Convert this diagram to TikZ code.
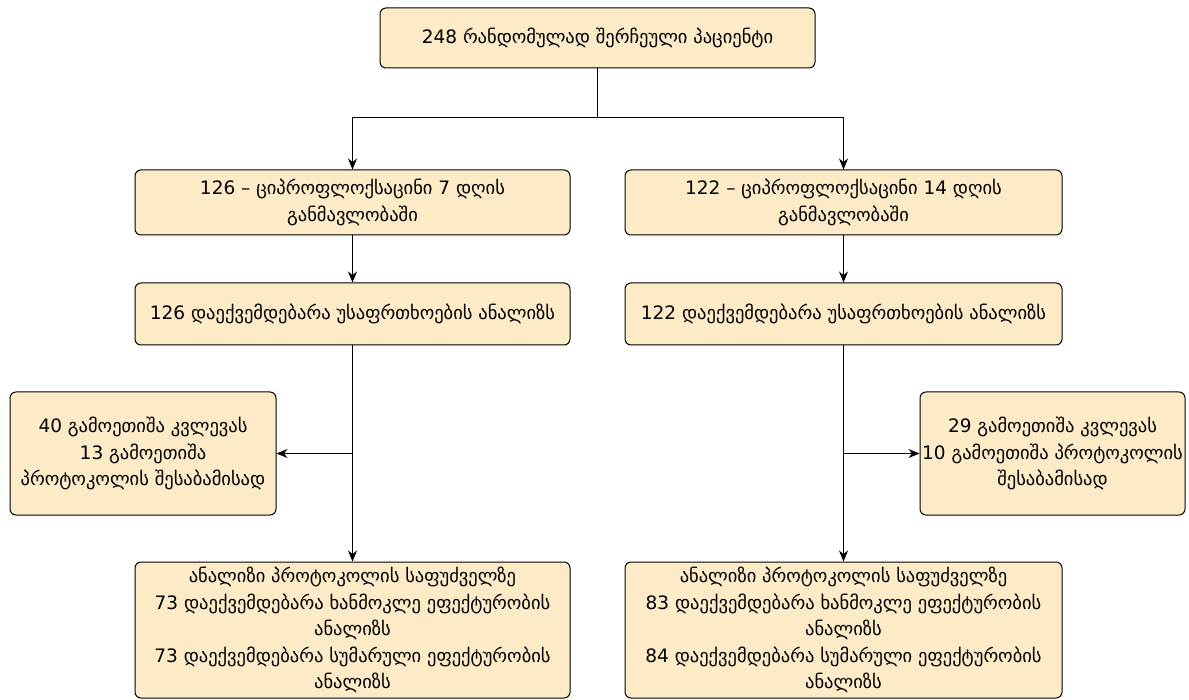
\documentclass[tikz,border=0pt]{standalone}
\usepackage{fontspec}
\setmainfont{DejaVu Sans}
\usetikzlibrary{arrows.meta}
\definecolor{boxfill}{HTML}{FDEBC8}
\begin{document}
\begin{tikzpicture}[x=1pt,y=-1pt,
  box/.style={draw=black,line width=1pt,fill=boxfill,rounded corners=6pt,align=center,
    inner sep=0pt,font=\fontsize{18.5}{26.5}\selectfont},
  conn/.style={draw=black,line width=1pt},
  arr/.style={conn,-{Stealth[length=11pt,width=9pt]}}]
\useasboundingbox (0,0) rectangle (1189,700);
\node[box,minimum width=435pt,minimum height=60pt] (top) at (597.5,38) {248 რანდომულად შერჩეული პაციენტი};
\node[box,minimum width=435pt,minimum height=65pt] (l2) at (352.5,202.5) {126 – ციპროფლოქსაცინი 7 დღის\\განმავლობაში};
\node[box,minimum width=437pt,minimum height=65pt] (r2) at (843.5,202.5) {122 – ციპროფლოქსაცინი 14 დღის\\განმავლობაში};
\node[box,minimum width=435pt,minimum height=62pt] (l3) at (352.5,314) {126 დაექვემდებარა უსაფრთხოების ანალიზს};
\node[box,minimum width=437pt,minimum height=62pt] (r3) at (843.5,314) {122 დაექვემდებარა უსაფრთხოების ანალიზს};
\node[box,minimum width=266pt,minimum height=123pt] (ls) at (143,453.5) {40 გამოეთიშა კვლევას\\13 გამოეთიშა\\პროტოკოლის შესაბამისად};
\node[box,minimum width=265pt,minimum height=123pt] (rs) at (1052.5,453.5) {29 გამოეთიშა კვლევას\\10 გამოეთიშა პროტოკოლის\\შესაბამისად};
\node[box,minimum width=435pt,minimum height=136pt] (l4) at (352.5,630) {ანალიზი პროტოკოლის საფუძველზე\\73 დაექვემდებარა ხანმოკლე ეფექტურობის\\ანალიზს\\73 დაექვემდებარა სუმარული ეფექტურობის\\ანალიზს};
\node[box,minimum width=437pt,minimum height=136pt] (r4) at (843.5,630) {ანალიზი პროტოკოლის საფუძველზე\\83 დაექვემდებარა ხანმოკლე ეფექტურობის\\ანალიზს\\84 დაექვემდებარა სუმარული ეფექტურობის\\ანალიზს};
\coordinate (j) at (597.5,118);
\draw[conn] (top.south) -- (j);
\draw[arr] (j) -| (l2.north);
\draw[arr] (j) -| (r2.north);
\draw[arr] (l2) -- (l3);
\draw[arr] (r2) -- (r3);
\draw[arr] (l3) -- (l4);
\draw[arr] (r3) -- (r4);
\draw[arr] (l3.south |- ls.east) -- (ls.east);
\draw[arr] (r3.south |- rs.west) -- (rs.west);
\end{tikzpicture}
\end{document}
